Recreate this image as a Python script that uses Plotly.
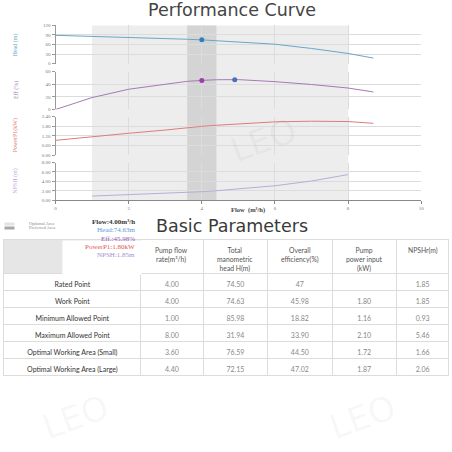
import plotly.graph_objects as go

# ---------------- data ----------------
flow = [0, 1, 2, 3, 3.6, 4, 4.4, 5, 6, 7, 8, 8.69]
head = [88.9, 85.98, 82.7, 79.2, 76.59, 74.63, 72.15, 68.0, 61.0, 47.6, 31.94, 17.4]
eff = [0, 18.82, 32.0, 39.5, 44.5, 45.98, 47.02, 47.2, 44.0, 39.5, 33.9, 27.7]
power = [0.93, 1.16, 1.37, 1.57, 1.72, 1.80, 1.87, 1.96, 2.08, 2.12, 2.10, 1.99]
npsh_flow = [1, 2, 3, 3.6, 4, 4.4, 5, 6, 7, 8]
npsh = [0.93, 1.2, 1.5, 1.66, 1.85, 2.06, 2.4, 3.1, 4.1, 5.46]

work_flow = 4.0
work_head = 74.63
work_eff = 45.98
bep_flow = 4.9
bep_eff = 47.0

optional_area = [1.0, 8.0]
preferred_area = [3.6, 4.4]

head_ticks = [0, 30, 60, 90, 120]
eff_ticks = [0, 20, 40, 60]
power_ticks = [0, 0.6, 1.2, 1.8, 2.4]
npsh_ticks = [0, 2, 4, 6, 8]
flow_ticks = [0, 2, 4, 6, 8, 10]

row_labels = ["Rated Point", "Work Point", "Minimum Allowed Point", "Maximum Allowed Point",
              "Optimal Working Area (Small)", "Optimal Working Area (Large)"]
col_flow = ["4.00", "4.00", "1.00", "8.00", "3.60", "4.40"]
col_head = ["74.50", "74.63", "85.98", "31.94", "76.59", "72.15"]
col_eff = ["47", "45.98", "18.82", "33.90", "44.50", "47.02"]
col_power = ["", "1.80", "1.16", "2.10", "1.72", "1.87"]
col_npsh = ["1.85", "1.85", "0.93", "5.46", "1.66", "2.06"]
header_labels = ["", "Pump flow<br>rate(m³/h)", "Total<br>manometric<br>head H(m)",
                 "Overall<br>efficiency(%)", "Pump<br>power input<br>(kW)", "NPSHr(m)"]

# ---------------- layout helpers ----------------
W = H = 452
def py(p):  # pixel y -> paper
    return 1 - p / H
def px(p):
    return p / W

C_HEAD = "#6aa6c8"
C_EFF = "#a679b4"
C_POW = "#dc7c7c"
C_NPSH = "#b9acd9"
SERIF = "Liberation Serif"
SANS = "DejaVu Sans"
TFONT = "Lato"

fig = go.Figure()
fig.add_trace(go.Scatter(x=flow, y=head, mode="lines", line=dict(color=C_HEAD, width=1), xaxis="x", yaxis="y"))
fig.add_trace(go.Scatter(x=[work_flow], y=[work_head], mode="markers", marker=dict(color="#2f7fbf", size=5), xaxis="x", yaxis="y"))
fig.add_trace(go.Scatter(x=flow, y=eff, mode="lines", line=dict(color=C_EFF, width=1), xaxis="x2", yaxis="y2"))
fig.add_trace(go.Scatter(x=[work_flow], y=[work_eff], mode="markers", marker=dict(color="#9a40a8", size=5), xaxis="x2", yaxis="y2"))
fig.add_trace(go.Scatter(x=[bep_flow], y=[bep_eff], mode="markers", marker=dict(color="#4a6fc0", size=5), xaxis="x2", yaxis="y2"))
fig.add_trace(go.Scatter(x=flow, y=power, mode="lines", line=dict(color=C_POW, width=1), xaxis="x3", yaxis="y3"))
fig.add_trace(go.Scatter(x=npsh_flow, y=npsh, mode="lines", line=dict(color=C_NPSH, width=1), xaxis="x4", yaxis="y4"))

xdom = [px(55), px(424)]
ydoms = [[py(62.3), py(23.7)], [py(108.7), py(70.3)], [py(155), py(116)], [py(200.7), py(162.3)]]
tickfont = dict(size=5, color="#777", family=SERIF)
yticks = [head_ticks, eff_ticks, power_ticks, npsh_ticks]
yfmt = ["d", "d", ".2f", ".2f"]

layout = dict(width=W, height=H, margin=dict(l=0, r=0, t=0, b=0), showlegend=False,
              plot_bgcolor="rgba(0,0,0,0)", paper_bgcolor="white")
for i in range(4):
    s = "" if i == 0 else str(i + 1)
    last = i == 3
    layout["xaxis" + s] = dict(domain=xdom, range=[0, 10], tickvals=flow_ticks, showgrid=True,
                               gridcolor="#dcdcdc", gridwidth=1, zeroline=False,
                               showticklabels=last, tickfont=tickfont,
                               showline=last, linecolor="#888", ticks="outside" if last else "",
                               ticklen=3, tickcolor="#888",
                               anchor="y" + s, **({} if i == 0 else {"matches": "x"}))
    layout["yaxis" + s] = dict(domain=ydoms[i], range=[yticks[i][0], yticks[i][-1]], tickvals=yticks[i],
                               tickformat=yfmt[i], showgrid=True, gridcolor="#dcdcdc", zeroline=False,
                               showline=True, linecolor="#999", ticks="outside", ticklen=3,
                               tickcolor="#999", tickfont=tickfont, anchor="x" + s)
fig.update_layout(**layout)

# shaded areas
fig.add_shape(type="rect", xref="x", yref="paper", x0=optional_area[0], x1=optional_area[1],
              y0=py(200.7), y1=py(23.7), fillcolor="#ededed", line_width=0, layer="below")
fig.add_shape(type="rect", xref="x", yref="paper", x0=preferred_area[0], x1=preferred_area[1],
              y0=py(200.7), y1=py(23.7), fillcolor="#d4d4d4", line_width=0, layer="below")

def A(text, x, y, **kw):
    d = dict(text=text, x=px(x), y=py(y), xref="paper", yref="paper", showarrow=False,
             xanchor="center", yanchor="middle")
    d.update(kw)
    return d

ann = []
ann.append(A("Performance Curve", 233, 8, font=dict(family=SANS, size=17.5, color="#444")))
ann.append(A("Basic Parameters", 233, 226, font=dict(family=SANS, size=17.5, color="#3a3a3a")))
ylabels = [("Head (m)", 43, C_HEAD), ("Eff (%)", 89, C_EFF), ("PowerP1(kW)", 135, C_POW), ("NPSH (m)", 181, C_NPSH)]
for t, yy, c in ylabels:
    ann.append(A(t, 15, yy, textangle=-90, font=dict(family=SERIF, size=6, color=c)))
ann.append(A("<b>Flow  (m³/h)</b>", 249, 210, font=dict(family=SERIF, size=6.5, color="#444")))
# legend swatches
ann.append(A("", 3, 224, xanchor="left", width=9, height=2, bgcolor="#e3e3e3", borderpad=0))
ann.append(A("", 3, 228.5, xanchor="left", width=9, height=2, bgcolor="#a8a8a8", borderpad=0))
ann.append(A("Optional Area", 26, 224, xanchor="left", font=dict(family=SERIF, size=4.5, color="#888")))
ann.append(A("Preferred Area", 26, 228.5, xanchor="left", font=dict(family=SERIF, size=4.5, color="#888")))
# white box over header cell
ann.append(A("", 62, 240.5, xanchor="left", yanchor="top", width=78, height=33, bgcolor="white", borderpad=0))
info = [("Flow:4.00m³/h", "#333", True), ("Head:74.63m", "#5b9bd5", False), ("Eff.:45.98%", "#9b59b6", False),
        ("PowerP1:1.80kW", "#e05555", False), ("NPSH:1.85m", "#9f90d0", False)]
iy = [222.5, 230.5, 239.5, 247.5, 256]
for (t, c, b), yy in zip(info, iy):
    ann.append(A(("<b>%s</b>" % t) if b else t, 137, yy, xanchor="right", font=dict(family=SERIF, size=7, color=c)))

# table geometry
tx0, tx1 = 3, 452
colw = [138, 63, 65, 65, 65, 53]
edges = [tx0]
for w in colw:
    edges.append(edges[-1] + w * (tx1 - tx0) / sum(colw))
for i, lab in enumerate(header_labels):
    if lab:
        ann.append(A(lab, (edges[i] + edges[i + 1]) / 2, 244.5, yanchor="top",
                     font=dict(family=TFONT, size=6.8, color="#555")))

# watermarks
for wx, wy in [(75, 420), (365, 420), (265, 140)]:
    ann.append(A("LEO", wx, wy, textangle=-20, font=dict(family=SANS, size=34, color="rgba(0,0,0,0.045)")))
fig.update_layout(annotations=ann)

fig.add_trace(go.Table(
    domain=dict(x=[px(tx0), px(tx1)], y=[py(382), py(240)]),
    columnwidth=colw,
    header=dict(values=[""] * 6, height=34, align="center",
                fill=dict(color=["#e6e6e6", "white", "white", "white", "white", "white"]),
                line=dict(color="#dcdcdc", width=1),
                font=dict(family=TFONT, size=7, color="#555")),
    cells=dict(values=[row_labels, col_flow, col_head, col_eff, col_power, col_npsh], height=17, align="center",
               fill=dict(color="white"), line=dict(color="#dcdcdc", width=1),
               font=dict(family=TFONT, size=7, color=["#333", "#888", "#888", "#888", "#888", "#888"]))
))

fig.write_html("out.html")
